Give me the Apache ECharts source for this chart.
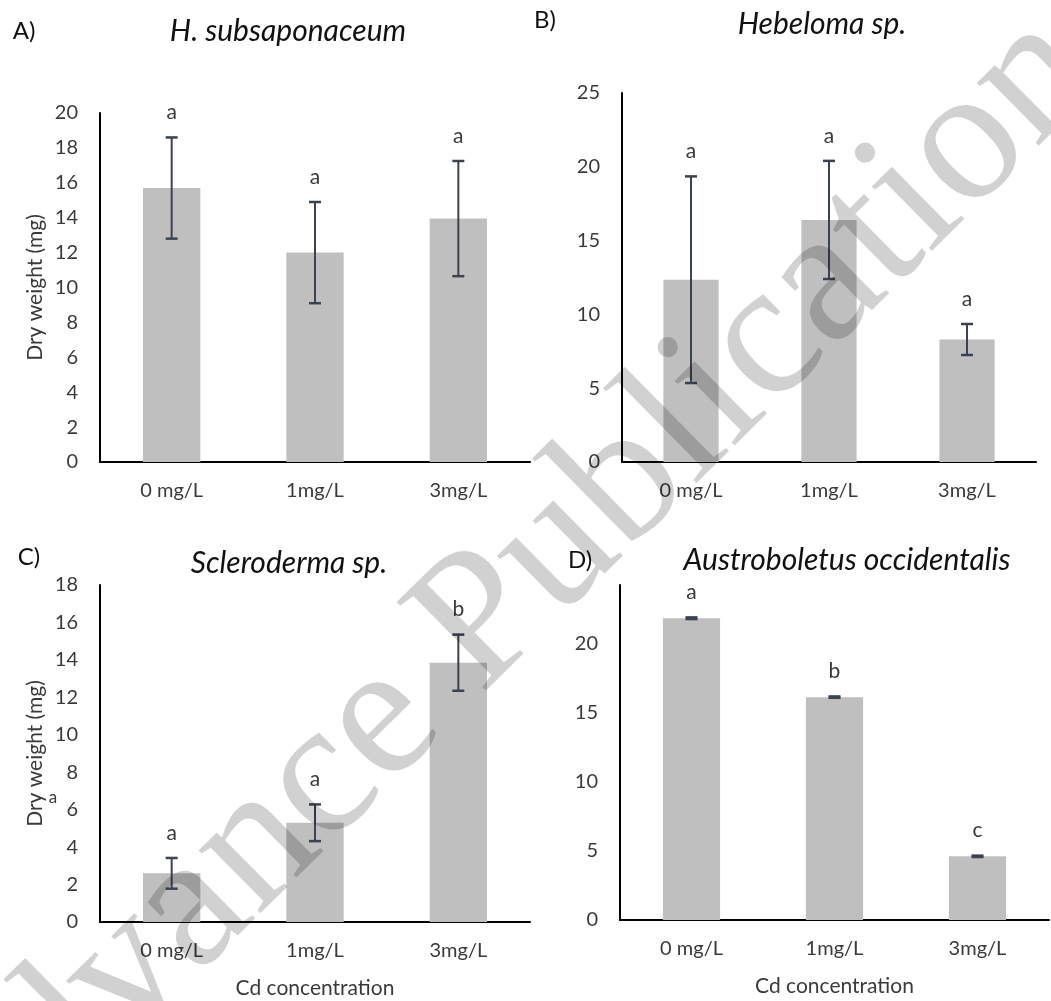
<!DOCTYPE html>
<html><head><meta charset="utf-8">
<script src="https://cdn.jsdelivr.net/npm/echarts@6/dist/echarts.min.js"></script>
<style>html,body{margin:0;padding:0;background:#fff}#c{width:1051px;height:1001px}</style>
</head><body><div id="c"></div>
<script>
// ---- data ----
const categories = ['0 mg/L', '1mg/L', '3mg/L'];
const meanA = [15.7, 12.0, 13.95];
const sdA = [2.9, 2.9, 3.3];
const lettersA = ['a', 'a', 'a'];
const meanB = [12.35, 16.4, 8.3];
const sdB = [7.0, 4.0, 1.05];
const lettersB = ['a', 'a', 'a'];
const meanC = [2.6, 5.3, 13.85];
const sdC = [0.82, 0.98, 1.5];
const lettersC = ['a', 'a', 'b'];
const meanD = [21.8, 16.1, 4.6];
const sdD = [0.06, 0.05, 0.05];
const lettersD = ['a', 'b', 'c'];
const panelTitles = ['H. subsaponaceum', 'Hebeloma sp.', 'Scleroderma sp.', 'Austroboletus occidentalis'];
const panelTags = ['A)', 'B)', 'C)', 'D)'];
const yName = 'Dry weight (mg)';
const xName = 'Cd concentration';
const watermark = 'Advance Publication';

const FONT = 'Lato, "Open Sans", sans-serif';
const TXT = '#3a3a3a';

const panels = [
  {mean: meanA, sd: sdA, letters: lettersA, grid: {left: 100, top: 113, width: 430, height: 349}, max: 20, interval: 2, yName: true, xName: false},
  {mean: meanB, sd: sdB, letters: lettersB, grid: {left: 622, top: 93, width: 414, height: 369}, max: 25, interval: 5, yName: false, xName: false},
  {mean: meanC, sd: sdC, letters: lettersC, grid: {left: 100, top: 585, width: 430, height: 337}, max: 18, interval: 2, yName: true, xName: true},
  {mean: meanD, sd: sdD, letters: lettersD, grid: {left: 620, top: 585, width: 429, height: 335}, max: 24.2, interval: 5, yName: false, xName: true}
];

function errRender(letters) {
  return function (params, api) {
    const i = api.value(0), m = api.value(1), s = api.value(2);
    const top = api.coord([i, m + s]);
    const bot = api.coord([i, m - s]);
    const x = top[0];
    const st = {stroke: '#3b4252', lineWidth: 2};
    return {type: 'group', children: [
      {type: 'line', shape: {x1: x, y1: top[1], x2: x, y2: bot[1]}, style: st},
      {type: 'line', shape: {x1: x - 6, y1: top[1], x2: x + 6, y2: top[1]}, style: {stroke: '#3b4252', lineWidth: 2.5}},
      {type: 'line', shape: {x1: x - 6, y1: bot[1], x2: x + 6, y2: bot[1]}, style: {stroke: '#3b4252', lineWidth: 2.5}},
      {type: 'text', x: x, y: top[1] - 25, style: {text: letters[i], align: 'center', verticalAlign: 'middle', font: '21px ' + FONT, fill: TXT}}
    ]};
  };
}

const grid = [], xAxis = [], yAxis = [], series = [];
panels.forEach((p, k) => {
  grid.push(p.grid);
  xAxis.push({
    type: 'category', gridIndex: k, data: categories,
    axisLine: {lineStyle: {color: '#000', width: 2}}, axisTick: {show: false},
    axisLabel: {color: TXT, fontSize: 20, fontFamily: FONT, margin: 19},
    name: p.xName ? xName : '', nameLocation: 'middle', nameGap: 56,
    nameTextStyle: {color: TXT, fontSize: 21, fontFamily: FONT}
  });
  yAxis.push({
    type: 'value', gridIndex: k, min: 0, max: p.max, interval: p.interval,
    axisLine: {show: true, lineStyle: {color: '#000', width: 2}}, axisTick: {show: false},
    splitLine: {show: false},
    axisLabel: {color: TXT, fontSize: 20, fontFamily: FONT, margin: 22, showMaxLabel: p.max % p.interval === 0},
    name: p.yName ? yName : '', nameLocation: 'middle', nameGap: 54,
    nameTextStyle: {color: TXT, fontSize: 21, fontFamily: FONT}
  });
  series.push({
    type: 'bar', xAxisIndex: k, yAxisIndex: k, data: p.mean, barWidth: '40%',
    itemStyle: {color: '#bfbfbf'}, silent: true
  });
  series.push({
    type: 'custom', xAxisIndex: k, yAxisIndex: k,
    data: p.mean.map((m, i) => [i, m, p.sd[i]]),
    renderItem: errRender(p.letters), z: 5, silent: true
  });
});

const titlePos = [[288, 31], [822, 24], [289, 563], [847, 560]];
const tagPos = [[24, 31], [545, 20], [29, 557], [580, 560]];
const graphic = [];
panelTitles.forEach((t, k) => {
  graphic.push({type: 'text', x: titlePos[k][0], y: titlePos[k][1],
    style: {text: t, align: 'center', verticalAlign: 'middle', font: 'italic 30px ' + FONT, fill: '#111'}});
  graphic.push({type: 'text', x: tagPos[k][0], y: tagPos[k][1],
    style: {text: panelTags[k], align: 'center', verticalAlign: 'middle', font: '24px ' + FONT, fill: '#111'}});
});
graphic.push({type: 'text', x: 53, y: 798, style: {text: 'a', align: 'center', verticalAlign: 'middle', font: '17px ' + FONT, fill: TXT}});
graphic.push({type: 'text', x: 497, y: 609, rotation: 44.6 * Math.PI / 180, z: 100,
  style: {text: watermark, align: 'center', verticalAlign: 'middle', font: '192px "Liberation Serif", serif', fill: 'rgba(0,0,0,0.18)'}});

const chart = echarts.init(document.getElementById('c'), null, {renderer: 'canvas'});
chart.setOption({animation: false, backgroundColor: '#fff', grid, xAxis, yAxis, series, graphic});
</script></body></html>
